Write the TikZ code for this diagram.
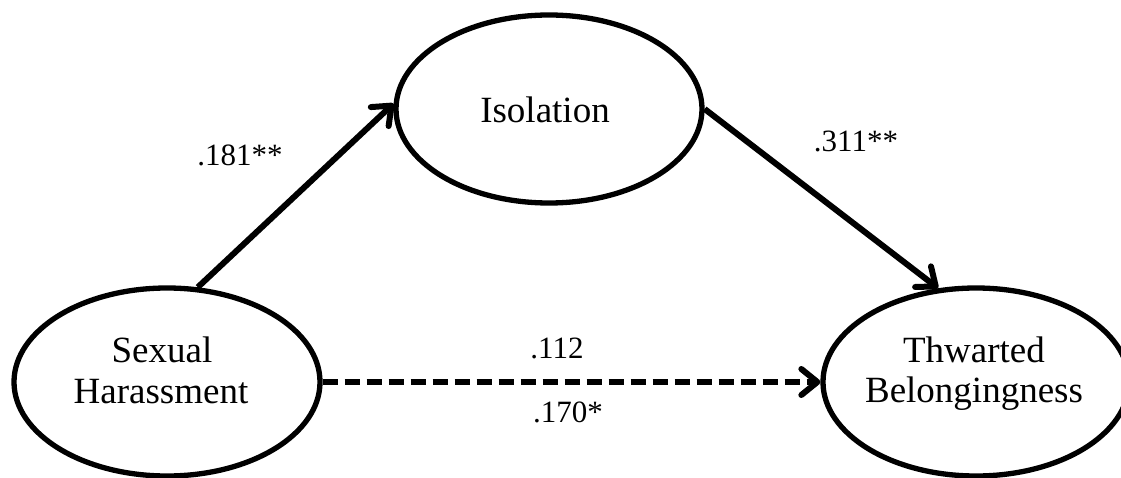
\documentclass[tikz,border=0pt]{standalone}
\usepackage{fontspec}
\setmainfont{Liberation Serif}
\usetikzlibrary{shapes.geometric,arrows.meta}
\begin{document}
\begin{tikzpicture}[x=1pt,y=-1pt,
  latent/.style={draw, ellipse, line width=5.3pt, minimum width=306pt, minimum height=188pt, inner sep=0pt},
  vname/.style={font=\fontsize{37}{41}\selectfont, anchor=base, inner sep=0pt},
  coef/.style={font=\fontsize{31}{35}\selectfont, anchor=base, inner sep=0pt},
  effect/.style={line width=6pt, -{Straight Barb[length=16pt,width=26pt,round]}},
  nonsig/.style={effect, dash pattern=on 15pt off 7pt}]
\useasboundingbox (0,0) rectangle (1121,478);
\node[latent] (Iso) at (549,109) {};
\node[latent] (SH) at (167,382) {};
\node[latent] (Thw) at (976,382) {};
\node[vname] (IsoT) at (545,123) {Isolation};
\node[vname] (SHt1) at (162,362) {Sexual};
\node[vname] (SHt2) at (161,403) {Harassment};
\node[vname] (ThwT1) at (974,362) {Thwarted};
\node[vname] (ThwT2) at (974,402) {Belongingness};
\draw[effect] (SH.72) -- (Iso.178);
\draw[effect] (Iso.0) -- (Thw.112);
\draw[nonsig] (SH.east) -- (Thw.west);
\node[coef] (a) at (240,166) {.181**};
\node[coef] (b) at (856,152) {.311**};
\node[coef] (c) at (557,358) {.112};
\node[coef] (cp) at (568,422) {.170*};
\end{tikzpicture}
\end{document}
